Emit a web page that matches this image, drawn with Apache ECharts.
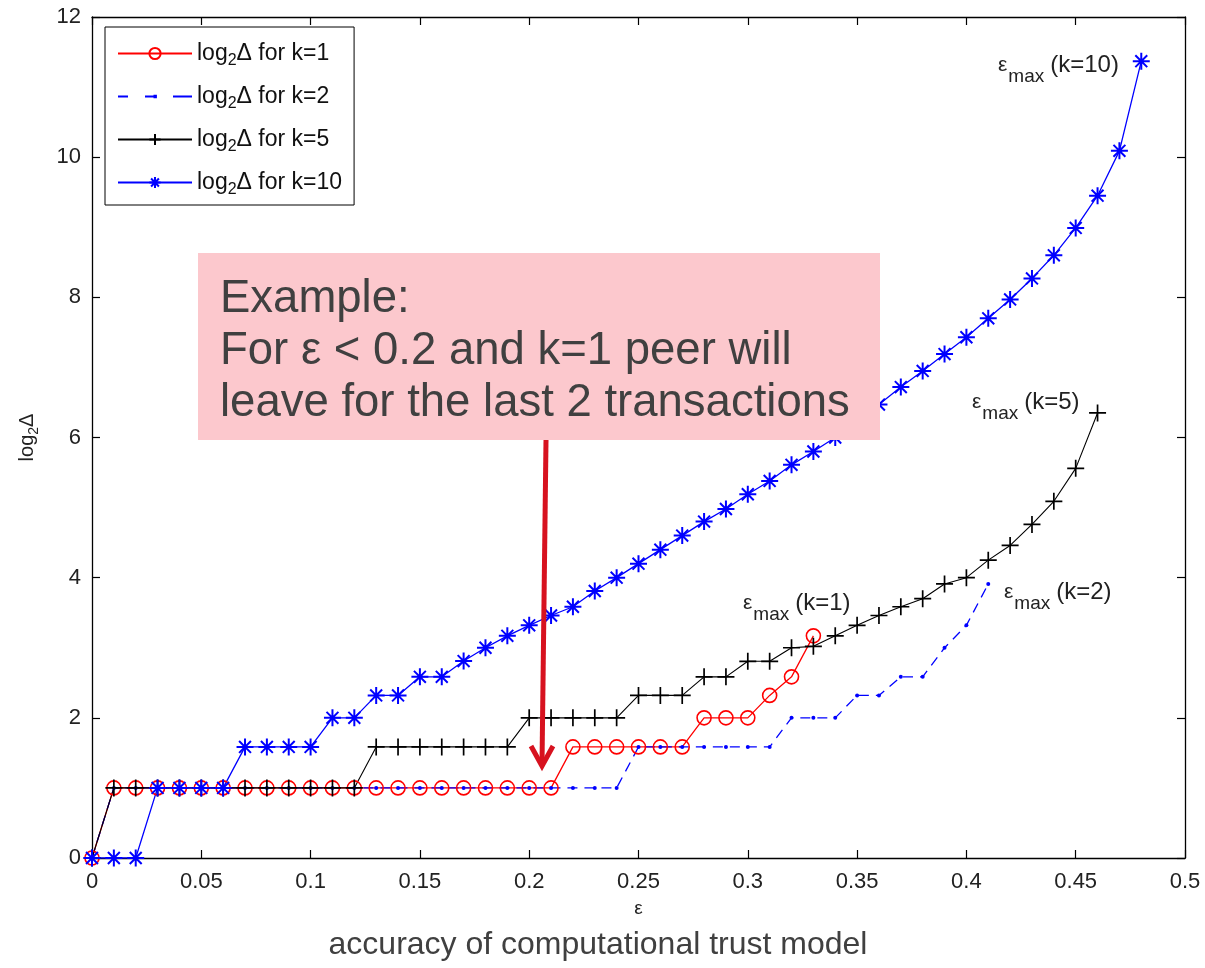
<!DOCTYPE html>
<html>
<head>
<meta charset="utf-8">
<script src="https://cdn.jsdelivr.net/npm/echarts@6.0.0/dist/echarts.min.js"></script>
<style>
  html, body { margin: 0; padding: 0; background: #fff; }
  #chart { width: 1205px; height: 968px; }
</style>
</head>
<body>
<div id="chart"></div>
<script>
  // epsilon values (x)
  const eps = [0, 0.01, 0.02, 0.03, 0.04, 0.05, 0.06, 0.07, 0.08, 0.09,
    0.10, 0.11, 0.12, 0.13, 0.14, 0.15, 0.16, 0.17, 0.18, 0.19,
    0.20, 0.21, 0.22, 0.23, 0.24, 0.25, 0.26, 0.27, 0.28, 0.29,
    0.30, 0.31, 0.32, 0.33, 0.34, 0.35, 0.36, 0.37, 0.38, 0.39,
    0.40, 0.41, 0.42, 0.43, 0.44, 0.45, 0.46, 0.47, 0.48];

  // log2(delta) per k
  const k1Vals = [0, 1, 1, 1, 1, 1, 1, 1, 1, 1, 1, 1, 1, 1, 1, 1, 1, 1, 1, 1, 1, 1,
    1.585, 1.585, 1.585, 1.585, 1.585, 1.585, 2, 2, 2, 2.32, 2.585, 3.17];
  const k2Vals = [0, 1, 1, 1, 1, 1, 1, 1, 1, 1, 1, 1, 1, 1, 1, 1, 1, 1, 1, 1, 1, 1, 1, 1, 1,
    1.585, 1.585, 1.585, 1.585, 1.585, 1.585, 1.585, 2, 2, 2, 2.32, 2.32, 2.585, 2.585,
    3.0, 3.32, 3.91];
  const k5Vals = [0, 1, 1, 1, 1, 1, 1, 1, 1, 1, 1, 1, 1,
    1.585, 1.585, 1.585, 1.585, 1.585, 1.585, 1.585, 2, 2, 2, 2, 2,
    2.32, 2.32, 2.32, 2.585, 2.585, 2.807, 2.807, 3.0, 3.02, 3.17, 3.32, 3.46, 3.585,
    3.7, 3.91, 4.0, 4.25, 4.46, 4.76, 5.09, 5.56, 6.35];
  const k10Vals = [0, 0, 0, 1, 1, 1, 1, 1.585, 1.585, 1.585, 1.585, 2, 2, 2.32, 2.32,
    2.585, 2.585, 2.81, 3.0, 3.17, 3.32, 3.46, 3.585, 3.81, 4.0, 4.2, 4.4, 4.6, 4.8,
    4.98, 5.19, 5.38, 5.61, 5.8, 6.0, 6.25, 6.47, 6.72, 6.95, 7.19, 7.43, 7.7, 7.97,
    8.27, 8.6, 8.99, 9.45, 10.09, 11.37];

  const seriesNames = ['k=1', 'k=2', 'k=5', 'k=10'];
  const xTicks = [0, 0.05, 0.1, 0.15, 0.2, 0.25, 0.3, 0.35, 0.4, 0.45, 0.5];
  const yTicks = [0, 2, 4, 6, 8, 10, 12];

  const FONT = '"Liberation Sans", Arial, sans-serif';
  const PLUS = 'path://M0,-1L0,1M-1,0L1,0';
  const STAR = 'path://M0,-1L0,1M-1,0L1,0M-0.7,-0.7L0.7,0.7M-0.7,0.7L0.7,-0.7';
  // dashed line + small dot for the k=2 legend entry (74 x 14 box)
  const DASH_ICON = 'path://M0,6.1h10v1.8h-10zM27,6.1h10v1.8h-10zM55,6.1h19v1.8h-19zM35.5,5.3h3.4v3.4h-3.4z' +
    'M0,0h0.01v0.01h-0.01zM73.99,13.99h0.01v0.01h-0.01z';

  function pairs(vals) {
    return vals.map(function (v, i) { return [eps[i], v]; });
  }

  function epsLabel(x, y, k) {
    return {
      type: 'text', x: x, y: y, z: 103,
      style: {
        text: '{e|ε}{s|max}{t|(' + k + ')}',
        rich: {
          e: { fontSize: 21, fontFamily: FONT, fill: '#222' },
          s: { fontSize: 19, fontFamily: FONT, fill: '#222', padding: [22, 6, 0, 1] },
          t: { fontSize: 24, fontFamily: FONT, fill: '#222' }
        }
      }
    };
  }

  const chart = echarts.init(document.getElementById('chart'), null, { renderer: 'canvas' });

  const axisCommon = {
    axisLine: { show: true, onZero: false, lineStyle: { color: '#000', width: 1.3 } },
    axisTick: { show: true, inside: true, length: 8, lineStyle: { color: '#000', width: 1.2 } },
    splitLine: { show: false }
  };

  chart.setOption({
    animation: false,
    backgroundColor: '#fff',
    grid: { left: 92, right: 20, top: 17, bottom: 110 },
    legend: {
      orient: 'vertical',
      left: 105,
      top: 27,
      padding: [15, 12, 7, 12],
      itemWidth: 74,
      itemHeight: 14,
      itemGap: 16,
      backgroundColor: '#fff',
      borderColor: '#000',
      borderWidth: 1,
      data: [
        { name: 'k=1' },
        { name: 'k=2', icon: DASH_ICON },
        { name: 'k=5' },
        { name: 'k=10' }
      ],
      formatter: function (name) {
        return '{a|log}{s|2}{a|Δ for ' + name + '}';
      },
      textStyle: {
        fontFamily: FONT,
        color: '#111',
        rich: {
          a: { fontSize: 23, fontFamily: FONT, color: '#111' },
          s: { fontSize: 16, fontFamily: FONT, color: '#111', padding: [15, 0, 0, 0] }
        }
      }
    },
    xAxis: [
      Object.assign({
        type: 'value', min: 0, max: 0.5, interval: 0.05,
        name: 'ε', nameLocation: 'middle', nameGap: 41,
        nameTextStyle: { fontFamily: FONT, fontSize: 19, color: '#222' },
        axisLabel: {
          fontFamily: FONT, fontSize: 22, color: '#222', margin: 13,
          formatter: function (v) {
            const r = Math.round(v * 100) / 100;
            return xTicks.indexOf(r) >= 0 ? String(r) : '';
          }
        }
      }, axisCommon),
      Object.assign({
        type: 'value', min: 0, max: 0.5, interval: 0.05, position: 'top',
        axisLabel: { show: false }
      }, axisCommon)
    ],
    yAxis: [
      Object.assign({
        type: 'value', min: 0, max: 12, interval: 2,
        name: '{a|log}{s|2}{a|Δ}', nameLocation: 'middle', nameGap: 51, nameRotate: 90,
        nameTextStyle: {
          rich: {
            a: { fontSize: 20, fontFamily: FONT, color: '#222' },
            s: { fontSize: 14, fontFamily: FONT, color: '#222', padding: [13, 0, 0, 0] }
          }
        },
        axisLabel: {
          fontFamily: FONT, fontSize: 22, color: '#222', margin: 11,
          formatter: function (v) { return yTicks.indexOf(v) >= 0 ? String(v) : ''; }
        }
      }, axisCommon),
      Object.assign({
        type: 'value', min: 0, max: 12, interval: 2, position: 'right',
        axisLabel: { show: false }
      }, axisCommon)
    ],
    series: [
      {
        name: 'k=1', type: 'line', data: pairs(k1Vals),
        symbol: 'circle', symbolSize: 14,
        lineStyle: { color: '#ff0000', width: 1.3 },
        itemStyle: { color: 'rgba(255,255,255,0)', borderColor: '#ff0000', borderWidth: 1.6 }
      },
      {
        name: 'k=2', type: 'line', data: pairs(k2Vals),
        symbol: 'circle', symbolSize: 4,
        lineStyle: { color: '#0000ff', width: 1.3, type: [10, 7] },
        itemStyle: { color: '#0000ff' }
      },
      {
        name: 'k=5', type: 'line', data: pairs(k5Vals),
        symbol: PLUS, symbolSize: 17,
        lineStyle: { color: '#000', width: 1.1 },
        itemStyle: { color: '#000', borderColor: '#000', borderWidth: 1.7 }
      },
      {
        name: 'k=10', type: 'line', data: pairs(k10Vals),
        symbol: STAR, symbolSize: 17,
        lineStyle: { color: '#0000ff', width: 1.3 },
        itemStyle: { color: '#0000ff', borderColor: '#0000ff', borderWidth: 2 }
      }
    ],
    graphic: [
      // example box
      {
        type: 'rect', left: 198, top: 253, z: 100,
        shape: { width: 682, height: 187 },
        style: { fill: '#fcc8cd' }
      },
      {
        type: 'text', left: 220, top: 273, z: 101,
        style: {
          text: 'Example:\nFor ε < 0.2 and k=1 peer will\nleave for the last 2 transactions',
          font: '45.5px ' + FONT, fill: '#404040', lineHeight: 52
        }
      },
      // arrow
      {
        type: 'line', z: 102,
        shape: { x1: 546, y1: 440, x2: 542, y2: 764 },
        style: { stroke: '#d7121f', lineWidth: 5 }
      },
      {
        type: 'polyline', z: 102,
        shape: { points: [[531, 746], [542, 766], [553, 746]] },
        style: { stroke: '#d7121f', lineWidth: 5, fill: null }
      },
      // eps_max labels
      epsLabel(998, 45, 'k=10'),
      epsLabel(972, 382, 'k=5'),
      epsLabel(743, 583, 'k=1'),
      epsLabel(1004, 572, 'k=2'),
      // caption under the axis
      {
        type: 'text', x: 598, y: 945, z: 103,
        style: {
          text: 'accuracy of computational trust model',
          font: '32px ' + FONT, fill: '#404040',
          align: 'center', verticalAlign: 'middle'
        }
      }
    ]
  });
</script>
</body>
</html>
